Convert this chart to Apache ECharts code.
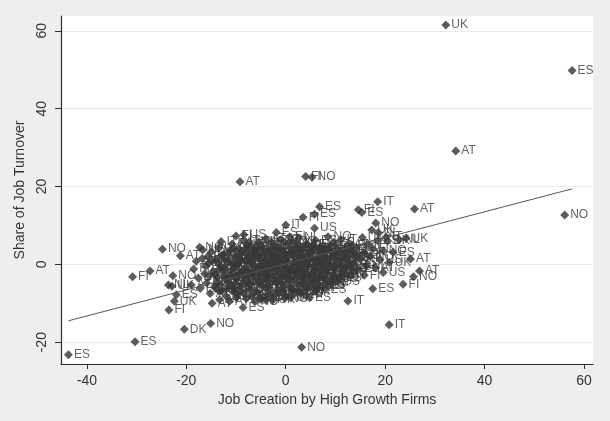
<!DOCTYPE html>
<html><head><meta charset="utf-8">
<script src="https://cdn.jsdelivr.net/npm/echarts@6/dist/echarts.min.js"></script>
<style>html,body{margin:0;padding:0;background:#eeeeee}#c{width:610px;height:421px}</style>
</head><body><div id="c"></div><script>
// Outlying / individually readable points
const outX = [32.2, 57.6, 34.2, 56.1, -9.2, 4.0, 5.3, -43.7, -30.3, -20.4,
  -15.1, 3.2, 20.8, 12.5, 17.5, 23.6, 25.7, 26.9, 25.1, 19.6,
  15.8, 9.1, 18.5, 25.9, 6.8, 14.6, 15.3, 18.1, 17.3, 18.6,
  24.2, 20.5, 22.8, 21.6, 5.8, 0.0, 3.5, 5.8, -8.4, -1.9,
  -7.3, -24.8, -21.2, -17.3, -16.7, -15.7, -30.8, -27.3, -22.7, -23.6,
  -22.9, -19.0, -22.0, -22.4, -23.5, -14.8, -13.3, -11.3, -8.6, -13.3,
  -4.0, 1.0, 2.8, 11.0, 0.8];
const outY = [61.5, 49.8, 29.1, 12.7, 21.2, 22.6, 22.4, -23.2, -19.9, -16.7,
  -15.2, -21.3, -15.5, -9.4, -6.3, -5.1, -3.2, -1.7, 1.4, -2.1,
  -2.8, -5.3, 16.1, 14.2, 14.8, 14.0, 13.3, 10.6, 8.8, 8.2,
  6.7, 6.0, 6.3, 3.1, 9.3, 10.1, 12.1, 12.9, 7.6, 8.2,
  5.8, 3.9, 2.2, 4.4, 3.7, 2.0, -3.2, -1.7, -2.9, -5.3,
  -5.6, -5.3, -7.8, -9.5, -11.7, -10.0, -9.1, -9.5, -11.1, -7.0,
  -9.2, -8.6, -7.0, -3.5, 7.1];
const outCode = ["UK","ES","AT","NO","AT","FI","NO","ES","ES","DK",
  "NO","NO","IT","IT","ES","FI","NO","AT","AT","US",
  "FI","IT","IT","AT","ES","FI","ES","NO","UK","NL",
  "UK","DK","NL","ES","US","IT","FI","ES","US","ES",
  "NO","NO","AT","NO","NO","FI","FI","AT","NO","NL",
  "UK","AT","ES","UK","FI","AT","AT","AT","ES","NO",
  "IT","UK","NO","ES","FI"];

// Dense central cluster (estimated)
const coreX = [
  -18.5, -18.0, -17.6, -17.2, -16.8, -16.3, -15.9, -15.5, -15.2, -15.0,
  -14.6, -14.3, -14.0, -13.7, -13.5, -13.1, -12.8, -12.6, -12.3, -12.0, -11.8, -11.5, -11.2, -11.0,
  -10.8, -10.6, -10.3, -10.1, -9.9, -9.6, -9.4, -9.2, -9.0, -8.8, -8.5, -8.3, -8.1, -7.9, -7.7, -7.5, -7.2, -7.0,
  -6.8, -6.6, -6.4, -6.2, -6.0, -5.8, -5.6, -5.4, -5.2, -5.0, -4.8, -4.6, -4.4, -4.2, -4.0, -3.8, -3.6, -3.4, -3.2, -3.0,
  -2.8, -2.6, -2.4, -2.2, -2.0, -1.8, -1.6, -1.4, -1.2, -1.0, -0.8, -0.6, -0.4, -0.2, 0.0, 0.2, 0.4, 0.6, 0.8, 1.0,
  1.2, 1.4, 1.6, 1.8, 2.0, 2.2, 2.4, 2.6, 2.8, 3.0, 3.2, 3.4, 3.6, 3.8, 4.0, 4.2, 4.4, 4.6, 4.8, 5.0,
  5.3, 5.5, 5.8, 6.0, 6.3, 6.5, 6.8, 7.0, 7.3, 7.5, 7.8, 8.0, 8.3, 8.5, 8.8, 9.0,
  9.3, 9.6, 9.9, 10.2, 10.5, 10.8, 11.1, 11.4, 11.7, 12.0, 12.3, 12.6,
  13.0, 13.4, 13.8, 14.2, 14.6, 15.0, 15.4, 15.8, 16.2, 16.6,
  17.0, 17.5, 18.0, 18.5, 19.0, 19.6, 20.2, 20.8,
  -13.0, -10.0, -9.7, -8.9, -8.0, -7.3, -6.5, -5.9, -5.1, -4.5, -3.9, -3.1, -2.5, -1.9, -1.3, -0.7, -0.1, 0.5, 1.1, 1.7,
  2.3, 2.9, 3.5, 4.1, 4.7, 5.3, 5.9, 6.5, 7.1, 7.7, 8.3, 8.9, 9.5, 10.1, -11.6, -12.4, -13.8, -10.4, -6.9, -2.0, 2.6, 6.0];
const coreY = [
  -1.2, 0.8, -3.5, -6.2, 1.5, -2.4, -4.8, 0.2, -7.5, 3.1,
  -1.8, -5.6, 1.2, -3.3, 4.3, -0.4, -6.8, 2.5, -2.9, -8.2, 0.6, -4.6, 3.6, -1.5,
  5.2, -6.1, -0.9, 2.0, -3.7, -7.9, 4.0, -2.2, 0.9, -5.1, 6.1, -1.1, 2.9, -8.8, -3.0, 0.3, -6.4, 4.6,
  -1.9, 1.6, -4.4, -9.6, 3.5, -0.6, -7.2, 5.7, -2.8, 0.9, -5.5, 2.4, -8.3, -1.4, 6.6, -3.9, 0.1, 3.8, -6.7, -2.3,
  1.8, -9.2, -0.8, 4.9, -4.7, 2.7, -1.6, -7.5, 0.5, 6.3, -3.2, -5.9, 3.3, -0.3, -8.1, 1.4, -2.5, 5.4, -4.1, -0.9,
  2.9, -6.6, 0.2, -2.0, 4.2, -4.9, 1.1, 6.8, -1.3, -7.4, 3.6, -3.4, 0.7, -5.8, 2.2, -0.5, 5.1, -2.7, -8.6, 1.5,
  -4.2, 3.9, -1.7, 6.2, -6.1, 0.6, -3.0, 2.8, -0.2, 4.7, -5.1, 1.9, -2.2, 7.1, 0.2, 3.4,
  -3.6, 5.6, -0.8, 2.3, -4.5, 0.9, 6.4, -2.0, 3.7, -0.3, 1.8, 5.0,
  -2.9, 2.6, 0.3, 4.4, -1.2, 1.5, 6.9, 3.0, -0.4, 5.2,
  2.0, 4.1, -0.9, 6.1, 1.2, 3.5, 7.0, 0.5,
  5.9, 7.3, -0.1, 3.3, -4.3, 1.9, -2.9, 4.4, -0.7, -4.1, 1.3, -1.0, 3.8, -2.8, 0.9, -5.0, 2.2, -1.8, 4.0, -3.7,
  -0.1, 2.0, -5.0, 0.6, 3.2, -2.6, 1.2, -4.8, 0.1, 2.9, -1.5, 4.7, -2.7, -0.3, -3.5, -0.9, -4.6, -7.0, -8.1, -7.6, -6.7, -6.9];
const coreCode = [
  "FI","AT","UK","ES","NO","IT","NL","US","AT","DK",
  "FI","IT","ES","NO","UK","AT","US","NL","FI","ES","IT","NO","AT","DK",
  "FI","UK","ES","NO","IT","AT","US","NL","FI","ES","IT","NO","AT","FI","UK","ES","DK","NO",
  "IT","US","AT","NO","FI","ES","IT","UK","NL","AT","FI","NO","ES","IT","AT","US","DK","FI","NO","ES",
  "IT","UK","AT","NO","FI","ES","NL","IT","US","AT","NO","ES","FI","IT","AT","UK","DK","ES","NO","FI",
  "AT","IT","NO","US","ES","UK","FI","NL","IT","NO","AT","ES","DK","FI","IT","NO","US","AT","ES","UK",
  "FI","NO","IT","ES","AT","NL","NO","FI","US","IT","ES","AT","UK","NO","DK","FI",
  "IT","ES","NO","AT","US","UK","IT","FI","NL","ES","NO","AT",
  "IT","FI","US","NO","ES","AT","UK","DK","NL","IT",
  "NO","FI","AT","ES","US","NO","IT","UK",
  "IT","FI","ES","NO","IT","AT","US","FI","ES","NO","UK","AT","IT","FI","NO","ES","AT","US","IT","NO",
  "ES","FI","AT","NL","IT","NO","ES","FI","UK","AT","IT","NO","US","FI","ES","NO","AT","IT","FI","NO","ES","IT"];

// Additional estimated points inside the solid core
const core2X = [
  -14.2, -13.6, -13.2, -12.9, -12.2, -11.9, -11.4, -10.9, -10.5, -10.2,
  -9.8, -9.5, -9.1, -8.7, -8.4, -8.2, -7.8, -7.6, -7.1, -6.7,
  -6.3, -6.1, -5.7, -5.5, -5.3, -4.9, -4.7, -4.3, -4.1, -3.7,
  -3.5, -3.3, -2.9, -2.7, -2.3, -2.1, -1.7, -1.5, -1.1, -0.9,
  -0.5, -0.3, 0.1, 0.3, 0.7, 0.9, 1.3, 1.5, 1.9, 2.1,
  2.5, 2.7, 3.1, 3.3, 3.7, 3.9, 4.3, 4.5, 4.9, 5.1,
  5.6, 6.2, 6.6, 6.9, 7.4, 7.6, 8.1, 8.6, 9.1, 9.4,
  10.0, 10.4, 10.9, 11.3, 11.8, 12.2, 12.8, 13.3, 13.6, 14.4];
const core2Y = [
  -2.6, 0.3, -5.2, 1.9, -3.8, -6.3, 1.1, -2.7, 4.1, -4.9,
  0.4, -6.6, 2.6, -2.9, -7.3, 0.9, 5.0, -1.8, -5.4, 3.1,
  -0.4, -6.9, 1.9, -3.6, -8.6, 4.8, -1.9, 0.6, -6.0, 2.9,
  -2.9, -8.0, 5.6, -0.2, -4.0, 1.2, -6.4, 4.1, -2.2, 1.9,
  -6.9, 5.7, -3.6, 0.8, -5.3, 3.0, -1.5, 5.9, -7.1, 0.4,
  -2.6, 3.4, -4.4, 1.6, -1.9, 4.5, -6.4, -0.1, 2.6, -5.5,
  5.0, -1.1, 2.1, -5.6, 3.8, -3.6, -0.8, 1.3, -4.6, 2.8,
  -1.7, 4.0, -3.0, 1.4, -1.1, 3.1, -0.5, 4.9, -1.9, 2.2];
const core2Code = [
  "NO","FI","ES","IT","AT","UK","US","NO","ES","FI",
  "IT","AT","NO","ES","UK","FI","IT","AT","NO","ES",
  "FI","IT","US","AT","NO","ES","FI","IT","UK","AT",
  "NO","ES","FI","IT","AT","US","NO","ES","FI","IT",
  "AT","NO","ES","UK","FI","IT","AT","NO","ES","FI",
  "IT","AT","NO","ES","US","FI","IT","AT","NO","ES",
  "FI","IT","AT","NO","ES","UK","FI","IT","AT","NO",
  "ES","FI","IT","AT","NO","ES","US","FI","IT","NO"];

const core3X = [
  -12.5, -11.7, -11.1, -10.7, -10.0, -9.3, -8.6, -8.0, -7.4, -6.9,
  -6.4, -5.9, -5.4, -4.9, -4.4, -3.9, -3.4, -2.9, -2.4, -1.9,
  -1.4, -0.9, -0.4, 0.1, 0.6, 1.1, 1.6, 2.1, 2.6, 3.1,
  3.6, 4.1, 4.6, 5.1, 5.6, 6.1, 6.6, 7.1, 7.6, 8.1,
  8.6, 9.1, 9.6, 10.1, 10.6, 11.1, 11.6, 12.1, 12.6, 13.1,
  -15.4, -14.8, -14.1, -13.4, -16.1, -9.9, -5.0, -0.2, 3.9, 7.9];
const core3Y = [
  -1.6, 2.8, -5.4, 0.1, -3.1, 1.5, -1.9, 4.2, -4.9, 0.6,
  -2.2, 2.9, -4.6, -0.3, 3.6, -2.6, -5.3, 0.3, 2.5, -0.6,
  -4.4, 3.9, -1.2, 1.9, -3.0, -6.0, 2.4, -1.8, 4.8, -0.7,
  -3.0, 1.8, -4.3, 3.6, -0.4, -3.5, 4.2, -1.9, 1.3, -4.0,
  3.9, -0.6, 1.7, -3.6, 3.2, -0.7, 2.0, -2.4, 0.8, 3.5,
  -3.0, 0.9, -6.2, -1.3, -0.5, -8.5, -8.9, -8.8, -7.9, -6.4];
const core3Code = [
  "AT","NO","ES","FI","IT","UK","NO","AT","ES","FI",
  "IT","NO","AT","US","ES","FI","IT","NO","AT","ES",
  "FI","UK","IT","NO","AT","ES","FI","IT","NO","US",
  "AT","ES","FI","IT","NO","AT","UK","ES","FI","IT",
  "NO","AT","ES","US","FI","IT","NO","AT","ES","FI",
  "IT","NO","AT","ES","FI","UK","IT","NO","AT","ES"];

// Fitted line end points
const fitX = [-43.7, 57.6];
const fitY = [-14.5, 19.4];

// Tick labels
const xTicks = [-40, -20, 0, 20, 40, 60];
const yTicks = [-20, 0, 20, 40, 60];

const allX = outX.concat(coreX, core2X, core3X), allY = outY.concat(coreY, core2Y, core3Y), allC = outCode.concat(coreCode, core2Code, core3Code);
const pts = allX.map((x, i) => [x, allY[i], allC[i]]);
const fit = fitX.map((x, i) => [x, fitY[i]]);

const chart = echarts.init(document.getElementById('c'), null, {renderer: 'canvas'});
const axisColor = '#2a2a2a';
chart.setOption({
  animation: false,
  backgroundColor: '#eeeeee',
  textStyle: {fontFamily: 'Liberation Sans, Arial, sans-serif'},
  grid: {left: 61, right: 17, top: 16, bottom: 57, show: true, backgroundColor: '#ffffff', borderWidth: 0, containLabel: false},
  xAxis: {
    type: 'value', min: -45.2, max: 61.8,
    name: 'Job Creation by High Growth Firms', nameLocation: 'middle', nameGap: 21,
    nameTextStyle: {fontSize: 14, color: '#333'},
    axisLine: {onZero: false, lineStyle: {color: axisColor, width: 1.2}},
    axisTick: {customValues: xTicks, length: 5, lineStyle: {color: axisColor}},
    axisLabel: {customValues: xTicks, fontSize: 14, color: '#333', margin: 10},
    splitLine: {show: false}
  },
  yAxis: {
    type: 'value', min: -25.6, max: 63.8,
    name: 'Share of Job Turnover', nameLocation: 'middle', nameGap: 29,
    nameTextStyle: {fontSize: 14, color: '#333'},
    axisLine: {onZero: false, lineStyle: {color: axisColor, width: 1.2}},
    axisTick: {customValues: yTicks, length: 6, lineStyle: {color: axisColor}},
    axisLabel: {customValues: yTicks, fontSize: 14, color: '#333', rotate: 90, margin: 12},
    splitLine: {show: true, lineStyle: {color: '#ebebeb', width: 1}}
  },
  series: [
    {
      type: 'scatter', data: pts, symbol: 'diamond', symbolSize: 9,
      itemStyle: {color: '#333333'},
      label: {show: true, position: 'right', distance: 1, formatter: p => p.data[2], fontSize: 12, color: '#3a3a3a'},
      z: 2
    },
    {
      type: 'line', data: fit, showSymbol: false, silent: true,
      lineStyle: {color: '#555', width: 1}, z: 3
    }
  ]
});
</script></body></html>
